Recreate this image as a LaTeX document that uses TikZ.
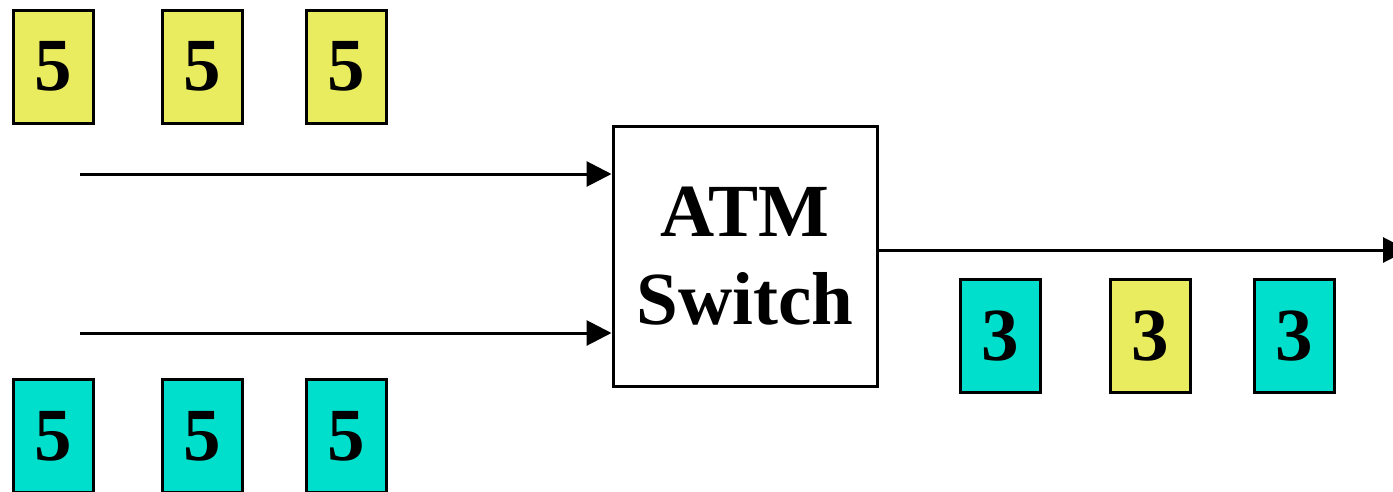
\documentclass[tikz,border=0pt]{standalone}
\usepackage{fontspec}
\setmainfont{Liberation Serif}
\usetikzlibrary{arrows.meta,positioning}
\definecolor{cellyellow}{HTML}{E9EC5E}
\definecolor{cellcyan}{HTML}{00DFCB}
\tikzset{>={Triangle[length=25pt,width=25pt]},
cell/.style={draw,line width=3pt,minimum width=80pt,minimum height=113pt,inner sep=0pt,font=\fontsize{75}{75}\selectfont\bfseries},
switchbox/.style={draw,line width=3pt,minimum width=264pt,minimum height=260pt,align=center,font=\fontsize{75}{88}\selectfont\bfseries},
arr/.style={->,line width=3pt}}
\begin{document}
\begin{tikzpicture}[x=1pt,y=-1pt]
\useasboundingbox (0,0) rectangle (1393,491);
\clip (0,0) rectangle (1393,491);
% incoming cells
\foreach \x [count=\k] in {53,202,346}{
\node[cell,fill=cellyellow] (top\k) at (\x,66.5) {5};
\node[cell,fill=cellcyan] (bot\k) at (\x,436) {5};}
% switch
\node[switchbox] (sw) at (745,256) {ATM\\Switch};
\coordinate (in1) at (80,174);
\coordinate (in2) at (80,333);
\coordinate (out) at (1408,250);
\draw[arr] (in1) -- (sw.west |- in1);
\draw[arr] (in2) -- (sw.west |- in2);
\draw[arr] (sw.east |- out) -- (out);
% outgoing cells
\node[cell,fill=cellcyan] (o1) at (1000.5,336) {3};
\node[cell,fill=cellyellow] (o2) at (1150.5,336) {3};
\node[cell,fill=cellcyan] (o3) at (1294.5,336) {3};
\end{tikzpicture}
\end{document}
